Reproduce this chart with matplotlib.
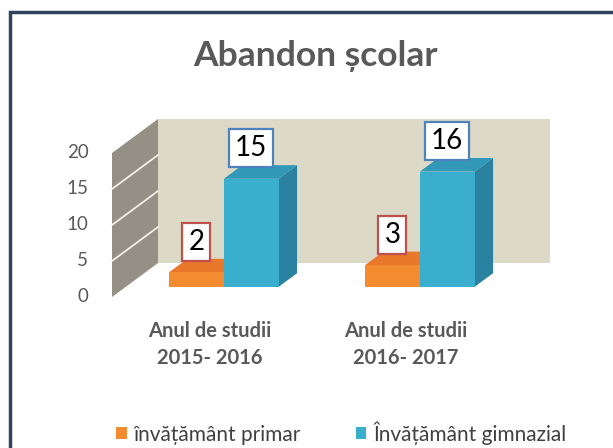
import matplotlib
matplotlib.use("Agg")
import matplotlib.pyplot as plt
from matplotlib.patches import Polygon, Rectangle, Patch

# ---- data ----
categories = ["Anul de studii\n2015- 2016", "Anul de studii\n2016- 2017"]
primar = [2, 3]
gimnazial = [15, 16]
series_names = ["învățământ primar", "Învățământ gimnazial"]
yticks = [0, 5, 10, 15, 20]
title = "Abandon școlar"

# ---- style ----
FONT = ["Lato", "DejaVu Sans"]
plt.rcParams["font.family"] = FONT
TXT = "#595959"
C_OR = dict(front="#f38b31", top="#e9772c", side="#c9651f")
C_BL = dict(front="#3aaecd", top="#3198b8", side="#2b82a0")
BACK = "#ddd9c7"
SIDE = "#959085"

fig = plt.figure(figsize=(6.13, 4.48), dpi=100)
ax = fig.add_axes([0, 0, 1, 1])
# pixel layout: category 0 at px 210, 196 px per category; value 0 at px 297, 7.2 px per unit
ax.set_xlim(-210 / 196, (613 - 210) / 196)
ax.set_ylim(-(448 - 297) / 7.2, 297 / 7.2)
ax.axis("off")

DX = 46 / 196      # x shift for full depth
DY = 34 / 7.2      # value shift for full depth
W = 0.28           # bar width
D0, D1 = 0.3, 0.7  # bar depth range
YMAX = yticks[-1]
WL, WR = -0.5, len(categories) - 0.5


def P(x, v, d):
    return (x + d * DX, v + d * DY)


# back wall
ax.add_patch(Polygon([P(WL, 0, 1), P(WR, 0, 1), P(WR, YMAX, 1), P(WL, YMAX, 1)],
                     closed=True, fc=BACK, ec="none", zorder=1))
# side wall
ax.add_patch(Polygon([P(WL, 0, 0), P(WL, 0, 1), P(WL, YMAX, 1), P(WL, YMAX, 0)],
                     closed=True, fc=SIDE, ec="none", zorder=1))
for t in yticks[1:-1]:
    a, b = P(WL, t, 0), P(WL, t, 1)
    ax.plot([a[0], b[0]], [a[1], b[1]], color="#f2efe6", lw=1.3, zorder=2)
for t in yticks:
    ax.annotate(str(t), xy=P(WL, t, 0), xytext=(-17, 0), textcoords="offset points",
                ha="right", va="center", fontsize=13.5, color=TXT, zorder=5)


def bar3d(x0, x1, h, c):
    ax.add_patch(Polygon([P(x1, 0, D0), P(x1, 0, D1), P(x1, h, D1), P(x1, h, D0)],
                         closed=True, fc=c["side"], ec="none", zorder=3))
    ax.add_patch(Polygon([P(x0, h, D0), P(x1, h, D0), P(x1, h, D1), P(x0, h, D1)],
                         closed=True, fc=c["top"], ec="none", zorder=3))
    a = P(x0, 0, D0)
    ax.add_patch(Rectangle(a, x1 - x0, h, fc=c["front"], ec="none", zorder=3))


def label(xc, h, text, ec):
    ax.annotate(text, xy=P(xc, h, D0), xytext=(0, 22), textcoords="offset points",
                ha="center", va="center", fontsize=20, color="black", zorder=6,
                bbox=dict(boxstyle="square,pad=0.22", fc="white", ec=ec, lw=1.6))


for i, (p, g) in enumerate(zip(primar, gimnazial)):
    bar3d(i - W, i, p, C_OR)
    bar3d(i, i + W, g, C_BL)
for i, (p, g) in enumerate(zip(primar, gimnazial)):
    label(i - W / 2, p, str(p), "#c0504d")
    label(i + W / 2, g, str(g), "#4f81bd")

for i, c in enumerate(categories):
    ax.text(i, -6.6, c, ha="center", va="center", fontsize=14.5, fontweight="bold",
            color=TXT, linespacing=1.4)

fig.text(0.515, 1 - 56 / 448, title, ha="center", va="center", fontsize=25.5,
         fontweight="bold", color=TXT)

handles = [Patch(fc=C_OR["front"], ec="none"), Patch(fc=C_BL["front"], ec="none")]
fig.legend(handles, series_names, loc="center", bbox_to_anchor=(0.557, 1 - 433 / 448),
           ncol=2, frameon=False, fontsize=15, handlelength=0.5, handleheight=0.5,
           handletextpad=0.35, columnspacing=2.6, labelcolor="#404040")

# outer frame
fig.patches.append(Rectangle((10 / 613, -0.1), 1.2, 1 - 12 / 448 + 0.1,
                             transform=fig.transFigure, fill=False, ec="#2e4460", lw=2.5))

fig.savefig("out.png", dpi=100)
